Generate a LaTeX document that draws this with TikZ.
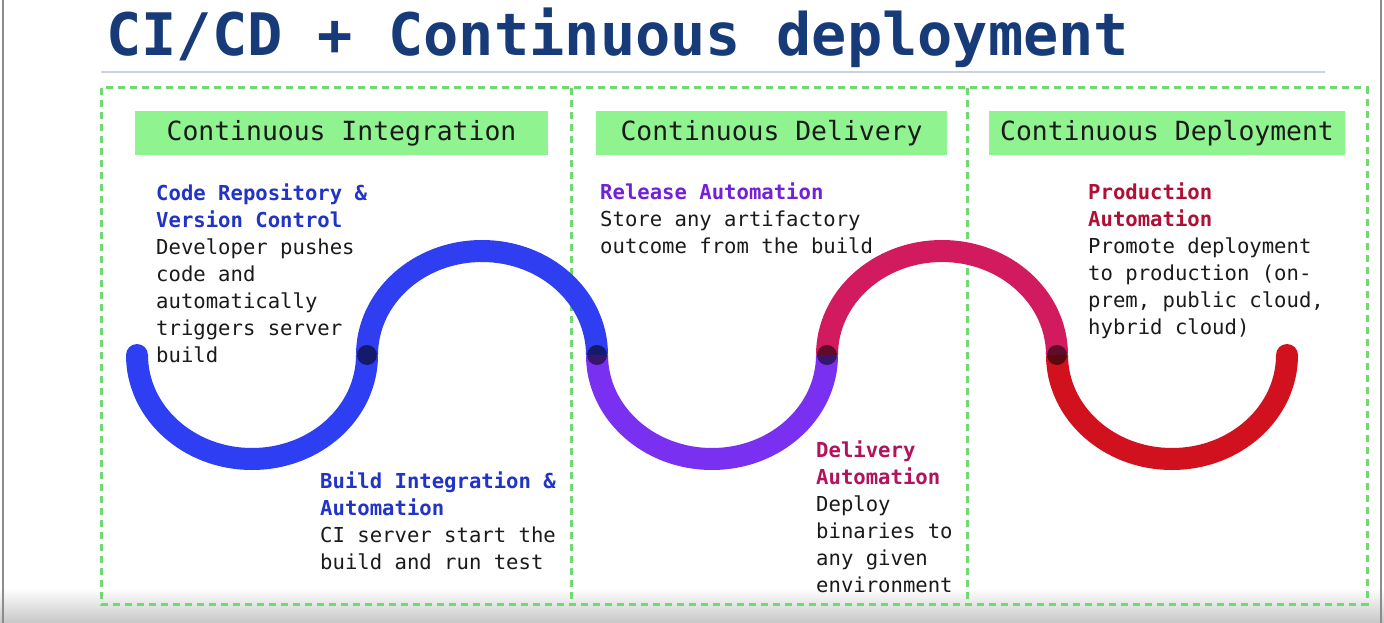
\documentclass[tikz,border=0pt]{standalone}
\usepackage{fontspec}
\setmonofont{DejaVu Sans Mono}
\usetikzlibrary{positioning}

\definecolor{titleblue}{HTML}{173A78}
\definecolor{rulegray}{HTML}{C9D1E2}
\definecolor{boxgreen}{HTML}{72D872}
\definecolor{hdrgreen}{HTML}{8FF38F}
\definecolor{bodytext}{HTML}{1A1A1A}
\definecolor{ciblue}{HTML}{2233C8}
\definecolor{cdpurple}{HTML}{7420D6}
\definecolor{cdmagenta}{HTML}{B0145A}
\definecolor{deplred}{HTML}{B01035}
\definecolor{waveA}{HTML}{2E3EF2}
\definecolor{waveB}{HTML}{2E3EF0}
\definecolor{waveC}{HTML}{7A30F0}
\definecolor{waveD}{HTML}{D21B5F}
\definecolor{waveE}{HTML}{D2111F}

\newcommand\bodyfont{\ttfamily\fontsize{20.6}{27}\selectfont}
\newcommand\topstrut{\rule{0pt}{20pt}}
\newcommand\hd[2]{\textcolor{#1}{\bfseries #2}}

\tikzset{
  body/.style={anchor=north west, inner sep=0pt, align=left, font=\bodyfont, text=bodytext},
  hdr/.style={fill=hdrgreen, inner sep=0pt, minimum height=44pt,
    font=\ttfamily\fontsize{26.4}{30}\selectfont, text=bodytext},
  frame/.style={draw=boxgreen, line width=3pt, dash pattern=on 7pt off 5pt},
  wave/.style={line width=22pt, line cap=butt},
  joint/.style={fill=black, opacity=0.55},
}

\begin{document}
\begin{tikzpicture}[x=1pt,y=-1pt]
\useasboundingbox (0,0) rectangle (1384,623);
\fill[white] (0,0) rectangle (1384,623);
\shade[top color=white, bottom color=black!22] (0,588) rectangle (1384,623);
\draw[black!45, line width=1.5pt] (3,0) -- (3,623);
\draw[black!45, line width=1.5pt] (1381,0) -- (1381,623);

% title and rule
\node[anchor=base west, inner sep=0pt, text=titleblue,
      font=\ttfamily\bfseries\fontsize{58.6}{60}\selectfont] (title) at (106,56)
      {CI/CD + Continuous deployment};
\draw[rulegray, line width=1.5pt] (101,72) -- (1325,72);

% dashed stage frames
\draw[frame] (101,88) rectangle (1367,604);
\draw[frame] (571,88) -- (571,604);
\draw[frame] (967,88) -- (967,604);

% stage headers
\node[hdr, minimum width=413pt] (hci)  at (341.5,133) {Continuous Integration};
\node[hdr, minimum width=351pt] (hcd)  at (771.5,133) {Continuous Delivery};
\node[hdr, minimum width=356pt] (hdep) at (1167,133)  {Continuous Deployment};

% wave through the pipeline
\coordinate (w0) at (137,355);
\coordinate (w1) at (367,355);
\coordinate (w2) at (597,355);
\coordinate (w3) at (827,355);
\coordinate (w4) at (1057,355);
\coordinate (w5) at (1287,355);
\draw[wave, draw=waveA] (w0) arc[start angle=180, end angle=0,   x radius=115, y radius=104];
\draw[wave, draw=waveB] (w1) arc[start angle=180, end angle=360, x radius=115, y radius=104];
\draw[wave, draw=waveC] (w2) arc[start angle=180, end angle=0,   x radius=115, y radius=104];
\draw[wave, draw=waveD] (w3) arc[start angle=180, end angle=360, x radius=115, y radius=104];
\draw[wave, draw=waveE] (w4) arc[start angle=180, end angle=0,   x radius=115, y radius=104];
\fill[waveA] (w0) circle (11pt);
\fill[waveE] (w5) circle (11pt);
\foreach \j in {w1,w2,w3,w4} \fill[joint] (\j) circle (10pt);

% step descriptions
\node[body] (coderepo) at (156,180) {\topstrut\hd{ciblue}{Code Repository \&}\\
  \hd{ciblue}{Version Control}\\Developer pushes\\code and\\automatically\\triggers server\\build};
\node[body] (buildint) at (320,468) {\topstrut\hd{ciblue}{Build Integration \&}\\
  \hd{ciblue}{Automation}\\CI server start the\\build and run test};
\node[body] (release) at (600,179) {\topstrut\hd{cdpurple}{Release Automation}\\
  Store any artifactory\\outcome from the build};
\node[body] (delivery) at (816,437) {\topstrut\hd{cdmagenta}{Delivery}\\
  \hd{cdmagenta}{Automation}\\Deploy\\binaries to\\any given\\environment};
\node[body] (production) at (1088,179) {\topstrut\hd{deplred}{Production}\\
  \hd{deplred}{Automation}\\Promote deployment\\to production (on-\\prem, public cloud,\\hybrid cloud)};
\end{tikzpicture}
\end{document}
